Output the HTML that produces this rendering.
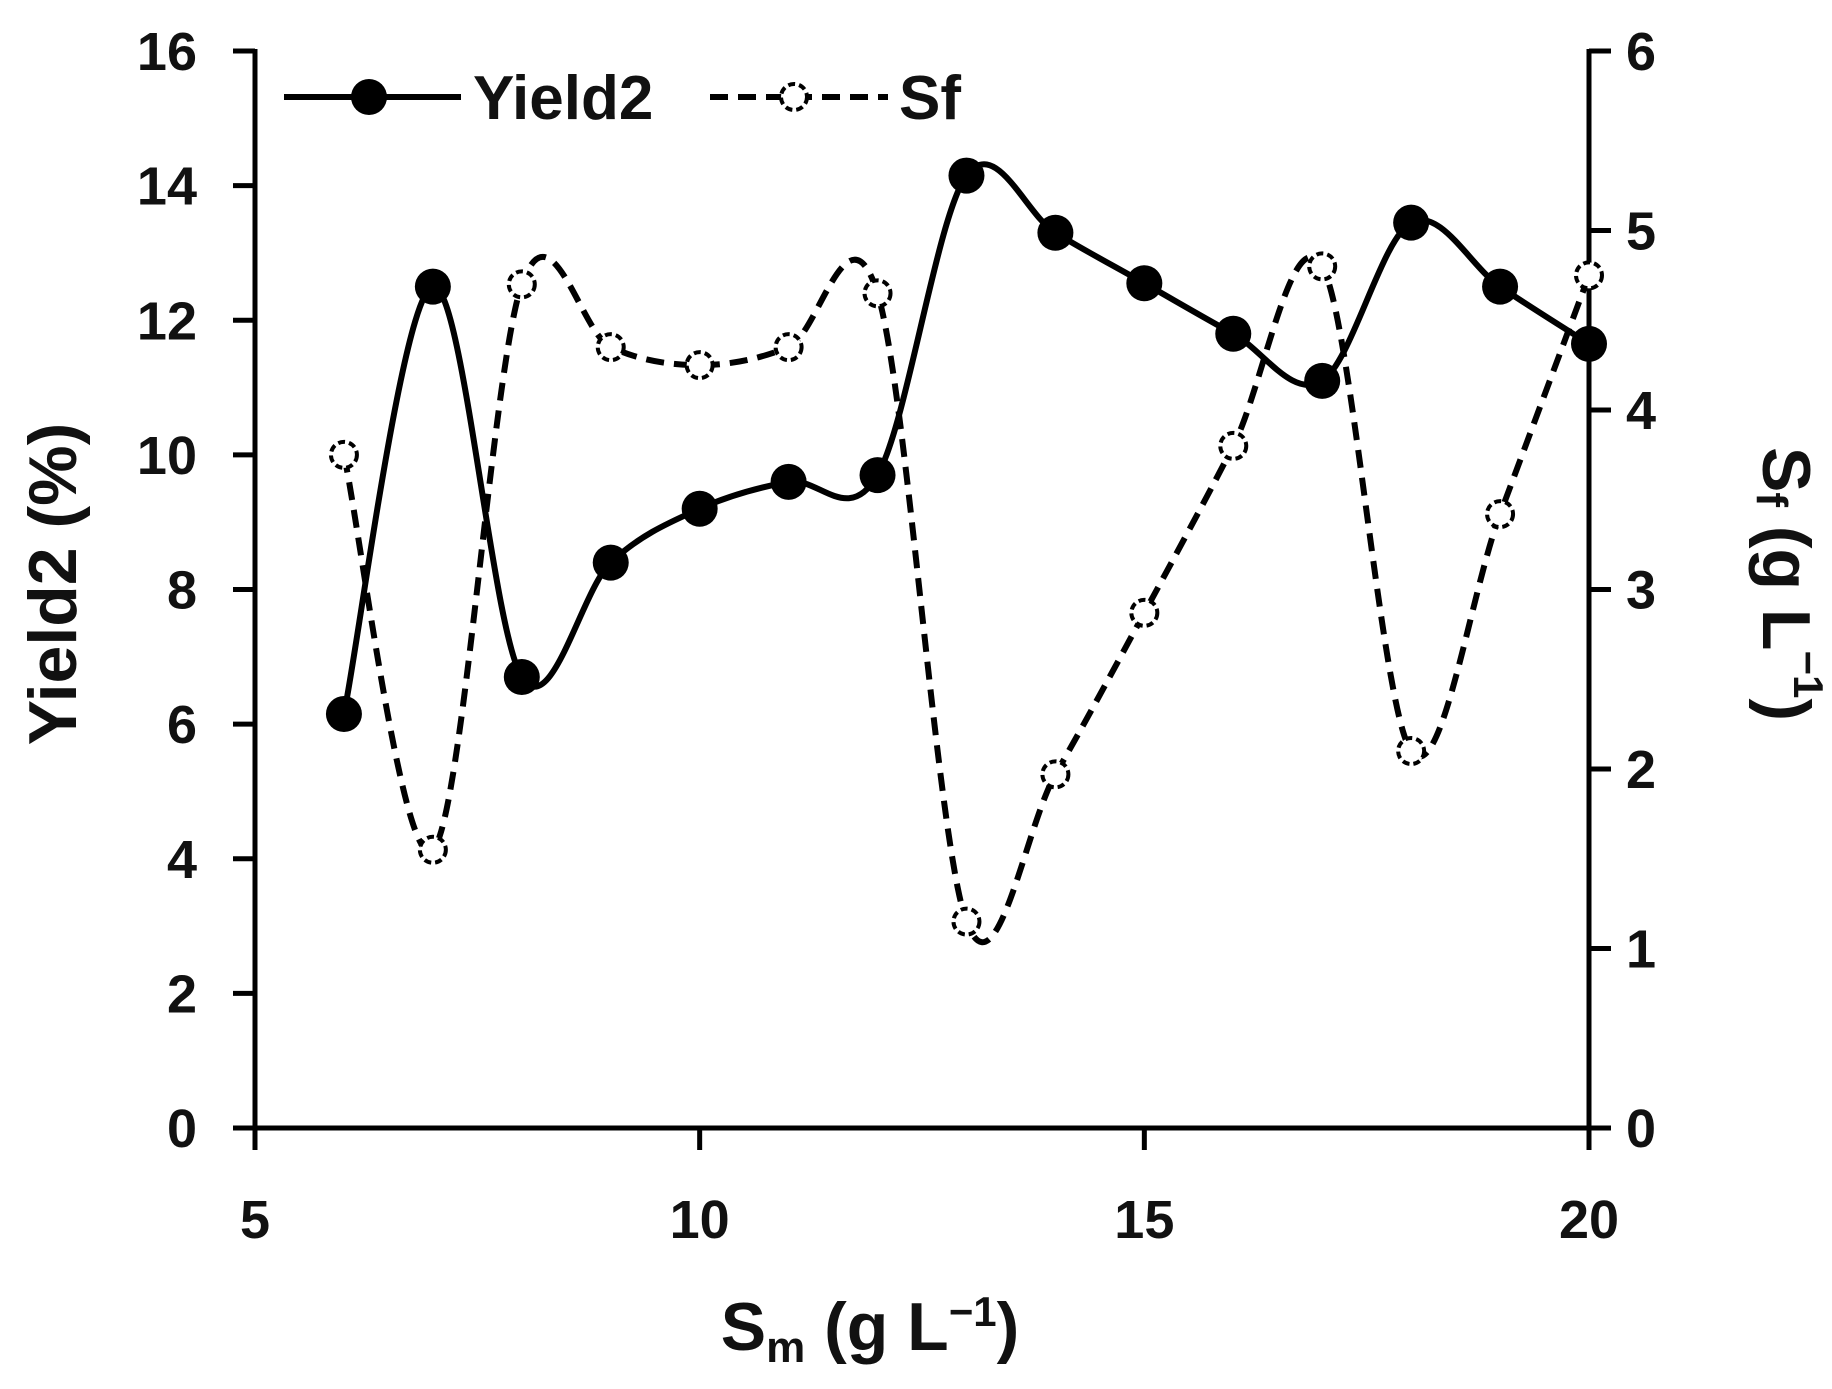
<!DOCTYPE html>
<html><head><style>
body{margin:0;background:#fff}
svg{display:block}
text{font-family:"Liberation Sans",sans-serif;font-weight:bold;fill:#111}
</style></head><body>
<svg id="s" width="1832" height="1389" viewBox="0 0 1832 1389" xmlns="http://www.w3.org/2000/svg">
<g stroke="#000" stroke-width="5" fill="none">
<line x1="255" y1="49" x2="255" y2="1130"/>
<line x1="1589" y1="49" x2="1589" y2="1130"/>
<line x1="253" y1="1128" x2="1591" y2="1128"/>
</g>
<g id="ticks" stroke="#000" stroke-width="5"></g>
<g font-size="54" id="labels"></g>
<text x="58" y="584" font-size="68" text-anchor="middle" transform="rotate(-90 58 584)" dominant-baseline="middle">Yield2 (%)</text>
<text x="1781" y="584" font-size="68" text-anchor="middle" transform="rotate(90 1781 584)" dominant-baseline="middle">S<tspan font-size="44" dy="12">f</tspan><tspan dy="-12"> (g L</tspan><tspan font-size="42" dy="-24">−1</tspan><tspan dy="24">)</tspan></text>
<text x="870" y="1350" font-size="68" text-anchor="middle">S<tspan font-size="44" dy="12">m</tspan><tspan dy="-12"> (g L</tspan><tspan font-size="42" dy="-24">−1</tspan><tspan dy="24">)</tspan></text>
<g id="series"></g>
<line x1="284" y1="97" x2="461" y2="97" stroke="#000" stroke-width="6"/>
<circle cx="369" cy="97" r="18" fill="#000"/>
<text x="473" y="119" font-size="62">Yield2</text>
<line x1="710" y1="97" x2="888" y2="97" stroke="#000" stroke-width="6" stroke-dasharray="18,10"/>
<circle cx="794" cy="97" r="13" fill="#fff" stroke="#000" stroke-width="4" stroke-dasharray="7,4"/>
<text x="899" y="119" font-size="62">Sf</text>
</svg>
<script>
const NS="http://www.w3.org/2000/svg";
const X=v=>255+(v-5)*1334/15, YL=v=>1128-v*67.31, YR=v=>1128-v*179.5;
const t=document.getElementById('ticks'),L=document.getElementById('labels'),S=document.getElementById('series');
function el(p,tag,a,txt){const e=document.createElementNS(NS,tag);for(const k in a)e.setAttribute(k,a[k]);if(txt!=null)e.textContent=txt;p.appendChild(e);return e;}
for(let v=0;v<=16;v+=2){const y=YL(v);el(t,'line',{x1:233,y1:y,x2:255,y2:y});el(L,'text',{x:197,y:y+19,'text-anchor':'end'},v);}
for(let v=0;v<=6;v++){const y=YR(v);el(t,'line',{x1:1589,y1:y,x2:1611,y2:y});el(L,'text',{x:1626,y:y+19},v);}
for(let v=5;v<=20;v+=5){const x=X(v);el(t,'line',{x1:x,y1:1128,x2:x,y2:1150});el(L,'text',{x:x,y:1238,'text-anchor':'middle'},v);}
const xs=[6,7,8,9,10,11,12,13,14,15,16,17,18,19,20];
const yv=[6.15,12.5,6.7,8.4,9.2,9.6,9.7,14.15,13.3,12.55,11.8,11.1,13.45,12.5,11.65];
const sf=[3.75,1.55,4.7,4.35,4.25,4.35,4.65,1.15,1.97,2.87,3.8,4.8,2.1,3.42,4.75];
function path(P){let d=`M${P[0][0]},${P[0][1]}`;for(let i=0;i<P.length-1;i++){const p0=P[i-1]||P[i],p1=P[i],p2=P[i+1],p3=P[i+2]||p2;const k=1/6;
d+=` C${p1[0]+(p2[0]-p0[0])*k},${p1[1]+(p2[1]-p0[1])*k} ${p2[0]-(p3[0]-p1[0])*k},${p2[1]-(p3[1]-p1[1])*k} ${p2[0]},${p2[1]}`;}return d;}
const P1=xs.map((x,i)=>[X(x),YL(yv[i])]),P2=xs.map((x,i)=>[X(x),YR(sf[i])]);
el(S,'path',{d:path(P2),fill:'none',stroke:'#000','stroke-width':6,'stroke-dasharray':'18,10'});
el(S,'path',{d:path(P1),fill:'none',stroke:'#000','stroke-width':6});
P2.forEach(p=>el(S,'circle',{cx:p[0],cy:p[1],r:13,fill:'#fff',stroke:'#000','stroke-width':4,'stroke-dasharray':'7,4'}));
P1.forEach(p=>el(S,'circle',{cx:p[0],cy:p[1],r:18,fill:'#000'}));
</script>
</body></html>
